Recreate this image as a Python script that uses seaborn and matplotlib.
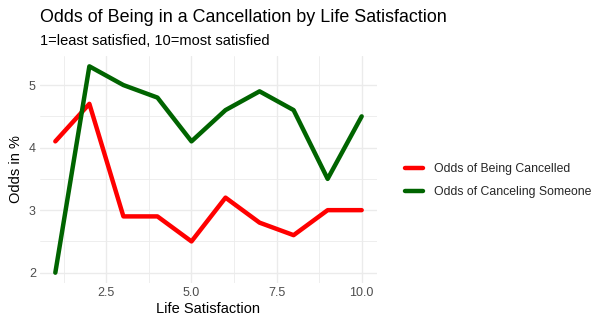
import numpy as np
import pandas as pd
import matplotlib
matplotlib.use("Agg")
import matplotlib.pyplot as plt
import seaborn as sns
from matplotlib.ticker import MultipleLocator

satisfaction = [1, 2, 3, 4, 5, 6, 7, 8, 9, 10]
being_cancelled = [4.1, 4.7, 2.9, 2.9, 2.5, 3.2, 2.8, 2.6, 3.0, 3.0]
canceling_someone = [2.0, 5.3, 5.0, 4.8, 4.1, 4.6, 4.9, 4.6, 3.5, 4.5]
series_names = ["Odds of Being Cancelled", "Odds of Canceling Someone"]
series_colors = ["#FF0000", "#006400"]

df = pd.DataFrame({
    "Life Satisfaction": satisfaction * 2,
    "Odds": being_cancelled + canceling_someone,
    "Series": [series_names[0]] * len(satisfaction) + [series_names[1]] * len(satisfaction),
})

sns.set_style("white")
plt.rcParams["font.family"] = ["Liberation Sans", "DejaVu Sans"]

fig = plt.figure(figsize=(6.04, 3.28), dpi=100)
ax = fig.add_axes([40 / 604, 1 - 283 / 328, (377 - 40) / 604, (283 - 56) / 328])

sns.lineplot(data=df, x="Life Satisfaction", y="Odds", hue="Series",
             palette=dict(zip(series_names, series_colors)), linewidth=3.2,
             ax=ax, legend=True)

ax.set_xlim(0.55, 10.45)
ax.set_ylim(1.835, 5.465)
ax.xaxis.set_minor_locator(MultipleLocator(1.25))
ax.yaxis.set_minor_locator(MultipleLocator(0.5))
ax.set_xticks([2.5, 5.0, 7.5, 10.0])
ax.set_xticklabels(["2.5", "5.0", "7.5", "10.0"])
ax.set_yticks([2, 3, 4, 5])
ax.grid(which="major", color="#EBEBEB", linewidth=1.0)
ax.grid(which="minor", color="#EBEBEB", linewidth=0.6)
ax.set_axisbelow(True)
for s in ax.spines.values():
    s.set_visible(False)
ax.tick_params(which="both", length=0, labelsize=9, labelcolor="#4D4D4D", pad=3)
ax.set_xlabel("Life Satisfaction", fontsize=10.5, color="black", labelpad=2)
ax.set_ylabel("Odds in %", fontsize=10.5, color="black", labelpad=4)

leg = ax.legend(loc="center left", bbox_to_anchor=(396 / 604, 1 - 180.5 / 328),
                bbox_transform=fig.transFigure, frameon=False, fontsize=8.8,
                handlelength=1.5, handletextpad=0.9, labelspacing=0.9, borderpad=0.2)
for line in leg.get_lines():
    line.set_linewidth(3.2)

fig.text(40 / 604, 1 - 18 / 328, "Odds of Being in a Cancellation by Life Satisfaction",
         fontsize=12.85, ha="left", va="center", color="black")
fig.text(40 / 604, 1 - 41 / 328, "1=least satisfied, 10=most satisfied",
         fontsize=10.55, ha="left", va="center", color="black")

fig.savefig("out.png", dpi=100)
